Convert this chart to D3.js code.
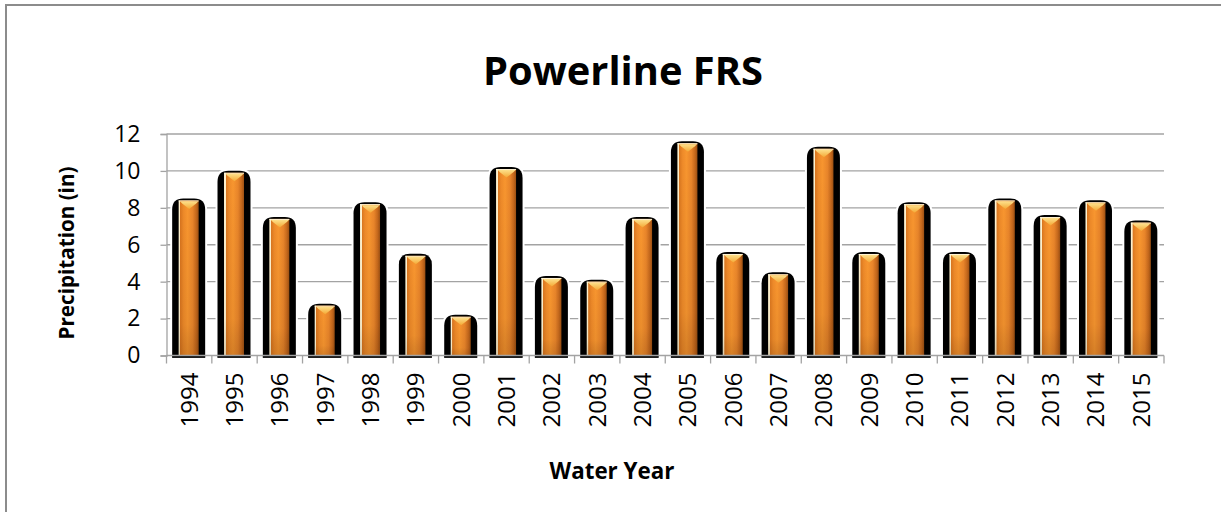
<!DOCTYPE html>
<html>
<head>
<meta charset="utf-8">
<script src="https://cdn.jsdelivr.net/npm/d3@7/dist/d3.min.js"></script>
<style>
  html, body { margin: 0; padding: 0; background: #fff; }
  svg { display: block; }
  text { font-family: "Open Sans", "Noto Sans", sans-serif; fill: #000; }
</style>
</head>
<body>
<svg id="chart" width="1221" height="512"></svg>
<script>
const years = ["1994","1995","1996","1997","1998","1999","2000","2001","2002","2003","2004",
               "2005","2006","2007","2008","2009","2010","2011","2012","2013","2014","2015"];
const precipitation = [8.4, 9.9, 7.4, 2.7, 8.2, 5.4, 2.1, 10.1, 4.2, 4.0, 7.4,
                       11.5, 5.5, 4.4, 11.2, 5.5, 8.2, 5.5, 8.4, 7.5, 8.3, 7.2];
const yTicks = [0, 2, 4, 6, 8, 10, 12];
const titleText = "Powerline FRS";
const xTitleText = "Water Year";
const yTitleText = "Precipitation (in)";

const svg = d3.select("#chart");
const W = 1221, H = 512;
const plot = { left: 166.5, right: 1164, top: 134, bottom: 355.5 };

// outer frame
svg.append("rect").attr("x", 6).attr("y", 5).attr("width", W + 50).attr("height", H + 50)
  .attr("fill", "none").attr("stroke", "#8c8c8c").attr("stroke-width", 2);

const defs = svg.append("defs");
const gBar = defs.append("linearGradient").attr("id", "barGrad").attr("x1", "0").attr("x2", "1").attr("y1", "0").attr("y2", "0");
[["0%", "#fff2cf"], ["8%", "#fff2cf"], ["9%", "#d9761f"], ["25%", "#ee8a29"], ["45%", "#f8962f"],
 ["70%", "#e9852a"], ["88%", "#c5681c"], ["100%", "#9c5013"]]
  .forEach(([o, c]) => gBar.append("stop").attr("offset", o).attr("stop-color", c));
const gCap = defs.append("linearGradient").attr("id", "capGrad").attr("x1", "0").attr("x2", "0").attr("y1", "0").attr("y2", "1");
[["0%", "#fde08a"], ["100%", "#f4a936"]].forEach(([o, c]) => gCap.append("stop").attr("offset", o).attr("stop-color", c));
const gShade = defs.append("linearGradient").attr("id", "shadeGrad").attr("x1", "0").attr("x2", "0").attr("y1", "0").attr("y2", "1");
[["0%", "#000", 0], ["80%", "#000", 0.05], ["100%", "#3a1a00", 0.18]]
  .forEach(([o, c, a]) => gShade.append("stop").attr("offset", o).attr("stop-color", c).attr("stop-opacity", a));

const x = d3.scaleBand().domain(years).range([plot.left, plot.right]).padding(0);
const y = d3.scaleLinear().domain([0, 12]).range([plot.bottom, plot.top]);

// gridlines
svg.append("g").selectAll("line").data(yTicks.filter(t => t > 0)).join("line")
  .attr("x1", plot.left).attr("x2", plot.right)
  .attr("y1", d => y(d)).attr("y2", d => y(d))
  .attr("stroke", "#a3a3a3").attr("stroke-width", 1.3);

// y axis
const yAxis = svg.append("g").attr("transform", `translate(${plot.left},0)`)
  .call(d3.axisLeft(y).tickValues(yTicks).tickSize(6).tickPadding(20).tickFormat(d3.format("d")));
yAxis.select(".domain").attr("stroke", "#a3a3a3").attr("stroke-width", 1.3);
yAxis.selectAll(".tick line").attr("stroke", "#a3a3a3").attr("stroke-width", 1.3);
yAxis.selectAll(".tick text").attr("font-size", 23).attr("font-family", "'Open Sans', sans-serif").attr("fill", "#000");

function roundedTop(x0, x1, t, b, r) {
  return `M${x0},${b} L${x0},${t + r} Q${x0},${t} ${x0 + r},${t} L${x1 - r},${t} Q${x1},${t} ${x1},${t + r} L${x1},${b} Z`;
}

// bars
const bars = svg.append("g").selectAll("g").data(years.map((yr, i) => ({ yr, v: precipitation[i] }))).join("g");
bars.each(function (d) {
  const g = d3.select(this);
  const cx = x(d.yr) + x.bandwidth() / 2;
  const top = y(d.v), base = y(0);
  // white halo + black body
  g.append("path").attr("d", roundedTop(cx - 17, cx + 16, top - 2, base + 2, 11))
    .attr("fill", "#000").attr("stroke", "#fff").attr("stroke-width", 4).attr("paint-order", "stroke");
  // orange bar
  g.append("rect").attr("x", cx - 10.5).attr("y", top).attr("width", 20).attr("height", base - top)
    .attr("fill", "url(#barGrad)");
  g.append("rect").attr("x", cx - 10.5).attr("y", top).attr("width", 20).attr("height", base - top)
    .attr("fill", "url(#shadeGrad)");
  g.append("line").attr("x1", cx - 10.5).attr("x2", cx + 9.5).attr("y1", top + 0.5).attr("y2", top + 0.5)
    .attr("stroke", "#fff6d8").attr("stroke-width", 1);
  // chevron cap
  const x0 = cx - 9, x1 = cx + 9;
  g.append("path").attr("d", `M${x0},${top + 1} L${x1},${top + 1} L${x1 - 2},${top + 3} L${cx},${top + 8.5} L${x0 + 2},${top + 3} Z`)
    .attr("fill", "url(#capGrad)");
  // base line
  g.append("line").attr("x1", cx - 17).attr("x2", cx + 16).attr("y1", base + 1.5).attr("y2", base + 1.5)
    .attr("stroke", "#000").attr("stroke-width", 1.5);
});

// x axis line & ticks at band boundaries
const xg = svg.append("g");
xg.append("line").attr("x1", plot.left).attr("x2", plot.right).attr("y1", plot.bottom).attr("y2", plot.bottom)
  .attr("stroke", "#a3a3a3").attr("stroke-width", 1.3);
const boundaries = years.map(yr => x(yr)).concat([plot.right]);
xg.selectAll("line.tk").data(boundaries).join("line").attr("class", "tk")
  .attr("x1", d => d).attr("x2", d => d).attr("y1", plot.bottom).attr("y2", plot.bottom + 8)
  .attr("stroke", "#a3a3a3").attr("stroke-width", 1.3);

const xAxis = svg.append("g").attr("transform", `translate(0,${plot.bottom})`)
  .call(d3.axisBottom(x).tickSize(0).tickPadding(0));
xAxis.select(".domain").remove();
xAxis.selectAll(".tick text")
  .attr("font-size", 24).attr("font-family", "'Open Sans', sans-serif").attr("fill", "#000")
  .attr("text-anchor", "end").attr("dy", null)
  .attr("transform", "translate(8.5,17) rotate(-90)");

function fitText(sel, targetWidth) {
  sel.attr("font-size", 20);
  const w = sel.node().getComputedTextLength();
  sel.attr("font-size", 20 * targetWidth / w);
}

// titles
const title = svg.append("text").attr("x", 623).attr("y", 85).attr("text-anchor", "middle")
  .attr("font-weight", "bold").text(titleText);
fitText(title, 280);

const xTitle = svg.append("text").attr("x", 612).attr("y", 479).attr("text-anchor", "middle")
  .attr("font-weight", "bold").text(xTitleText);
fitText(xTitle, 125);

const yTitle = svg.append("text").attr("text-anchor", "middle").attr("font-weight", "bold")
  .attr("transform", "translate(74,253) rotate(-90)").text(yTitleText);
fitText(yTitle, 173);
</script>
</body>
</html>
